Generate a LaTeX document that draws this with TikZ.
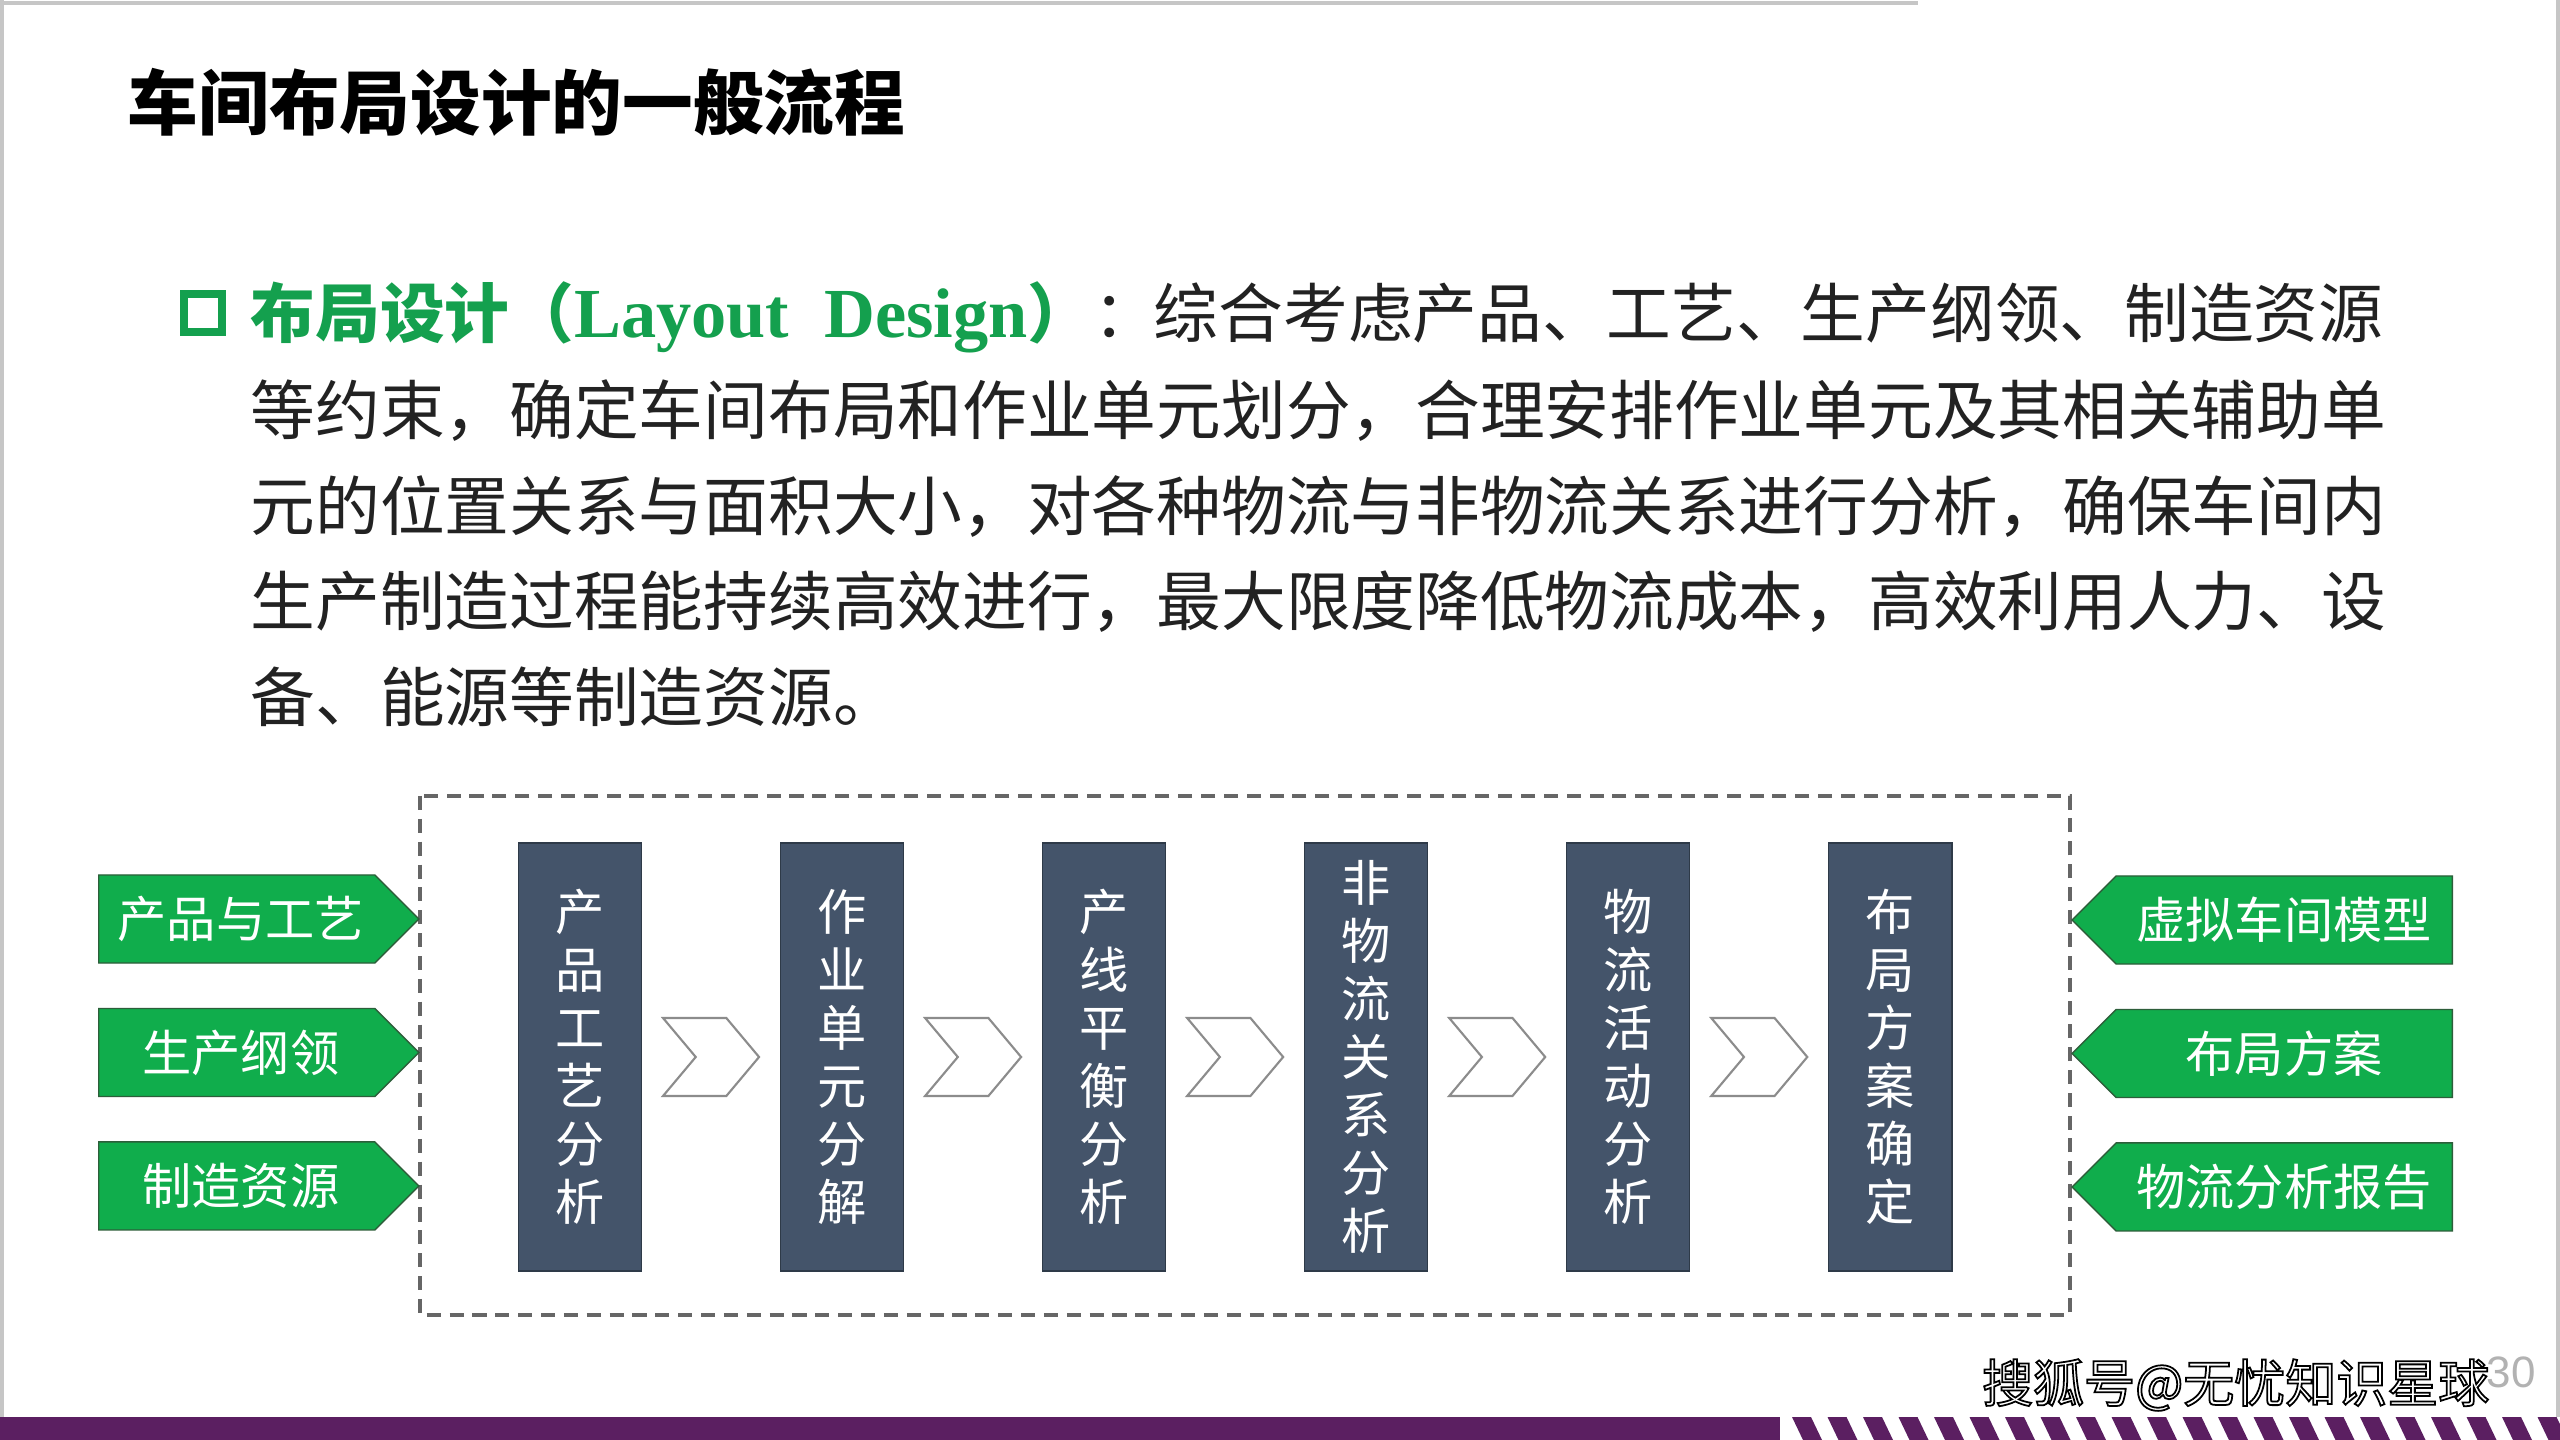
\documentclass[tikz,border=0pt]{standalone}
\usepackage{fontspec}
\setmainfont{Noto Sans CJK SC}
\newfontfamily\enserif{Liberation Serif}
\newfontfamily\numfont{Liberation Sans}
\usetikzlibrary{shapes,positioning,calc}
\definecolor{hdgreen}{HTML}{14A04E}
\definecolor{boxgreen}{HTML}{10AD4C}
\definecolor{boxedge}{HTML}{2D5E3A}
\definecolor{slate}{HTML}{44546A}
\definecolor{slateedge}{HTML}{2E3A48}
\definecolor{bandpurple}{HTML}{5B1F61}
\definecolor{bodytext}{HTML}{222222}
\newcommand{\outlined}[1]{\special{pdf:code q 0 G 2 Tr 0.5 w}#1\special{pdf:code Q}}

\begin{document}
\begin{tikzpicture}[x=0.01cm,y=-0.01cm,
    proc/.style={rectangle, draw=slateedge, fill=slate, text=white,
        minimum width=1.23cm, minimum height=4.28cm, inner sep=0pt,
        align=center, font=\fontsize{14pt}{16.5pt}\selectfont},
    chev/.style={signal, signal from=west, signal to=east,
        signal pointer angle=100, draw=gray!90, fill=white, line width=0.6pt,
        minimum width=0.96cm, minimum height=0.78cm, inner sep=0pt},
    inbox/.style={signal, signal to=east, draw=boxedge, fill=boxgreen,
        text=white, minimum width=3.2cm, minimum height=0.88cm,
        inner sep=0pt, font=\fontsize{14pt}{16pt}\selectfont},
    outbox/.style={signal, signal to=west, draw=boxedge, fill=boxgreen,
        text=white, minimum width=3.8cm, minimum height=0.88cm,
        inner sep=0pt, font=\fontsize{14pt}{16pt}\selectfont},
    line/.style={anchor=base west, inner sep=0pt, text=bodytext,
        font=\fontsize{18.4pt}{22pt}\selectfont}]

    \useasboundingbox (0,0) rectangle (2560,1440);
    \fill[white] (0,0) rectangle (2560,1440);

    % slide frame
    \draw[gray!45, line width=1.2pt] (0,3) -- (1918,3);
    \draw[gray!45, line width=1pt] (2,0) -- (2,1417);
    \draw[gray!45, line width=1pt] (2558,0) -- (2558,1417);

    \node [anchor=base west, inner sep=0pt,
        font=\fontsize{20.1pt}{24pt}\selectfont\bfseries] (title)
        at (127,130) {车间布局设计的一般流程};

    % paragraph
    \node [draw=hdgreen, line width=2.4pt, minimum size=0.38cm,
        inner sep=0pt] (bullet) at (203,313) {};
    \node [line, text=hdgreen, font=\fontsize{18.4pt}{22pt}\selectfont\bfseries]
        (head) at (250,338)
        {布局设计（{\enserif\fontsize{20pt}{24pt}\selectfont Layout\ \ Design}）};
    \node [line, right=0pt of head.base east, anchor=base west] (colon) {：};
    \node [line, anchor=base east] (l1) at (2384,338)
        {综合考虑产品、工艺、生产纲领、制造资源};
    \node [line] (l2) at (250,435)
        {等约束，确定车间布局和作业单元划分，合理安排作业单元及其相关辅助单};
    \node [line] (l3) at (250,531)
        {元的位置关系与面积大小，对各种物流与非物流关系进行分析，确保车间内};
    \node [line] (l4) at (250,626)
        {生产制造过程能持续高效进行，最大限度降低物流成本，高效利用人力、设};
    \node [line] (l5) at (250,722) {备、能源等制造资源。};

    % flow
    \draw[gray!80!black, line width=0.9pt, dash pattern=on 4pt off 2.5pt]
        (420,796) rectangle (2070,1315);

    \node [inbox, anchor=west] (in1) at (98,919) {\hspace{0.08cm}产品与工艺};
    \node [inbox, below=0.44cm of in1] (in2) {\hspace{0.08cm}生产纲领};
    \node [inbox, below=0.44cm of in2] (in3) {\hspace{0.08cm}制造资源};

    \node [proc] (p1) at (580,1057) {产\\品\\工\\艺\\分\\析};
    \node [proc, right=1.375cm of p1] (p2) {作\\业\\单\\元\\分\\解};
    \node [proc, right=1.375cm of p2] (p3) {产\\线\\平\\衡\\分\\析};
    \node [proc, right=1.375cm of p3] (p4) {非\\物\\流\\关\\系\\分\\析};
    \node [proc, right=1.375cm of p4] (p5) {物\\流\\活\\动\\分\\析};
    \node [proc, right=1.375cm of p5] (p6) {布\\局\\方\\案\\确\\定};

    \node [chev] (c1) at ($(p1.east)!0.5!(p2.west)$) {};
    \node [chev] (c2) at ($(p2.east)!0.5!(p3.west)$) {};
    \node [chev] (c3) at ($(p3.east)!0.5!(p4.west)$) {};
    \node [chev] (c4) at ($(p4.east)!0.5!(p5.west)$) {};
    \node [chev] (c5) at ($(p5.east)!0.5!(p6.west)$) {};

    \node [outbox, anchor=east] (out1) at (2453,920) {虚拟车间模型};
    \node [outbox, below=0.44cm of out1] (out2) {布局方案\hspace{0.3cm}};
    \node [outbox, below=0.44cm of out2] (out3) {物流分析报告};

    % footer
    \fill[bandpurple] (0,1417) rectangle (1780,1440);
    \foreach \i in {0,...,21}
        \fill[bandpurple] ({1792+35.5*\i},1417) -- ++(19,0) -- ++(11,23)
            -- ++(-19,0) -- cycle;
    \node [anchor=west, inner sep=0pt, text=gray!60,
        font=\numfont\fontsize{12.5pt}{14pt}\selectfont] (pagenum)
        at (2486,1372) {30};
    \node [anchor=east, inner sep=0pt, text=white,
        font=\fontsize{14.5pt}{16pt}\selectfont] (mark)
        at (2490,1385) {\outlined{搜狐号@无忧知识星球}};

\end{tikzpicture}
\end{document}
